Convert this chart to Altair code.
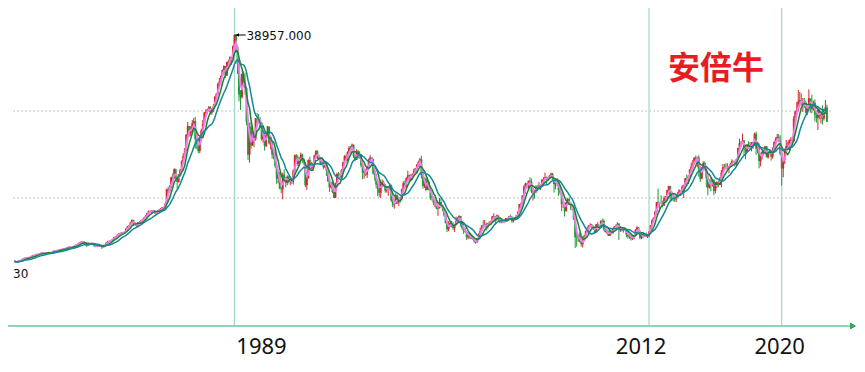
import altair as alt
import pandas as pd

# ---------------- data (monthly Nikkei 225, Oct 1977 - Sep 2022) ----------------
first_year, first_month = 1977, 10

closes = [
    4990, 4880, 4866,  # 1977 Oct-Dec
    5060, 5100, 5300, 5450, 5500, 5560, 5480, 5580, 5690, 5890, 5770, 6002,
    6080, 6050, 6160, 6310, 6200, 6180, 6230, 6290, 6340, 6210, 6380, 6569,
    6500, 6610, 6680, 6720, 6750, 6850, 6870, 6950, 7070, 7150, 7090, 7116,
    7250, 7330, 7470, 7600, 7790, 7900, 8000, 7700, 7600, 7300, 7600, 7682,
    7700, 7500, 7250, 7200, 7350, 7300, 7250, 7100, 7250, 7400, 7800, 8017,
    8020, 8100, 8300, 8600, 8700, 8900, 9100, 9200, 9300, 9200, 9400, 9894,
    10200, 10300, 10800, 11200, 10600, 10500, 10300, 10800, 10900, 11100, 11300, 11543,
    11800, 12200, 12500, 12500, 12400, 12600, 12300, 12400, 12500, 12700, 12900, 13113,
    13000, 13600, 15800, 15500, 16000, 17600, 17400, 18800, 17900, 16900, 17900, 18701,
    20000, 20800, 21600, 24000, 25300, 24200, 24500, 25700, 26000, 23300, 22600, 21564,
    23600, 24600, 25600, 27300, 27400, 27800, 28100, 27300, 27900, 28200, 29700, 30159,
    31600, 32000, 32800, 33700, 34300, 32900, 34900, 35000, 35600, 35550, 37300, 38916,
    37200, 34600, 29980, 29600, 33100, 31900, 31000, 25900, 20980, 25200, 22400, 23849,
    23300, 26400, 26300, 26100, 25800, 23300, 23900, 22300, 23900, 25200, 22700, 22984,
    21000, 21300, 19300, 17400, 18300, 15900, 15800, 18000, 17400, 16800, 17700, 16925,
    17000, 16900, 18600, 20900, 20600, 19600, 20400, 21000, 20100, 19700, 16400, 17417,
    20200, 19100, 19100, 19700, 20900, 21600, 20400, 20600, 19600, 19900, 19100, 19723,
    18600, 17000, 16100, 16800, 15400, 14500, 16700, 18100, 17900, 17600, 18700, 19868,
    20800, 20100, 21400, 22000, 21700, 22500, 20700, 20200, 21500, 20500, 21000, 19361,
    18300, 18600, 18000, 19200, 20100, 20600, 20300, 18200, 17900, 16500, 16600, 15259,
    16600, 16800, 16500, 15600, 15700, 15800, 16400, 14100, 13400, 13600, 14900, 13842,
    14500, 14400, 15800, 16700, 16100, 17500, 17900, 17400, 17600, 17900, 18600, 18934,
    19500, 19900, 20300, 17900, 16300, 17400, 15700, 16900, 15700, 14500, 14600, 13786,
    13800, 12900, 13000, 13900, 13300, 12900, 11900, 10700, 9800, 10400, 10700, 10543,
    9990, 10600, 11000, 11500, 11800, 10600, 10000, 9600, 9400, 8600, 9200, 8579,
    8340, 8360, 7970, 7830, 8420, 9080, 9560, 10340, 10220, 10560, 10100, 10677,
    10780, 11040, 11720, 11760, 11240, 11860, 11330, 11080, 10820, 10770, 11000, 11489,
    11390, 11740, 11670, 11010, 11280, 11580, 11900, 12410, 13570, 13610, 14870, 16111,
    16650, 16200, 17060, 16910, 15470, 15510, 15460, 16140, 16130, 16400, 16270, 17226,
    17380, 17600, 17290, 17400, 17880, 18140, 17250, 16570, 16790, 16740, 15680, 15308,
    13590, 13600, 12530, 13850, 14340, 13480, 13380, 13070, 11260, 8580, 8510, 8860,
    7990, 7570, 8110, 8830, 9520, 9960, 10360, 10490, 10130, 10030, 9350, 10546,
    10200, 10130, 11090, 11060, 9770, 9380, 9540, 8820, 9370, 9200, 9940, 10229,
    10240, 10620, 9760, 9850, 9690, 9820, 9830, 8950, 8700, 8990, 8430, 8455,
    8800, 9720, 10080, 9520, 8540, 9010, 8700, 8840, 8870, 8930, 9450, 10395,
    11140, 11560, 12400, 13860, 13770, 13680, 13670, 13390, 14460, 14330, 15660, 16291,
    14910, 14840, 14830, 14300, 14630, 15160, 15620, 15420, 16170, 16410, 17460, 17451,
    17670, 18800, 19210, 19520, 20560, 20240, 20590, 18890, 17390, 19080, 19750, 19034,
    17520, 16030, 16760, 16670, 17230, 15580, 16570, 16890, 16450, 17430, 18310, 19114,
    19040, 19120, 18910, 19200, 19650, 20030, 19930, 19650, 20360, 22010, 22720, 22765,
    23100, 22070, 21450, 22470, 22200, 22300, 22550, 22870, 24120, 21920, 22350, 20015,
    20770, 21390, 21210, 22260, 20600, 21280, 21520, 20700, 21760, 22930, 23290, 23657,
    23210, 21140, 18920, 20190, 21880, 22290, 21710, 23140, 23190, 22980, 26430, 27444,
    27660, 28970, 29180, 28810, 28860, 28790, 27280, 28090, 29450, 28890, 27820, 28792,
    27000, 26530, 27820, 26850, 27280, 26390, 27800, 28090, 25940,  # 2022 Jan-Sep
]

highs = [
    5080, 5010, 4960,
    5100, 5160, 5340, 5500, 5560, 5620, 5600, 5640, 5730, 5960, 5930, 6040,
    6130, 6140, 6200, 6350, 6370, 6260, 6290, 6330, 6400, 6380, 6420, 6600,
    6620, 6660, 6720, 6760, 6800, 6900, 6930, 7010, 7120, 7220, 7190, 7180,
    7290, 7380, 7510, 7640, 7830, 7960, 8020, 8030, 7780, 7620, 7650, 7720,
    7780, 7760, 7530, 7320, 7400, 7420, 7350, 7280, 7320, 7450, 7850, 8060,
    8100, 8160, 8360, 8650, 8780, 8970, 9180, 9260, 9380, 9380, 9460, 9920,
    10300, 10450, 10900, 11300, 11190, 10800, 10620, 10860, 11000, 11150, 11380, 11600,
    11900, 12300, 12600, 12650, 12650, 12700, 12700, 12500, 12650, 12800, 13000, 13150,
    13200, 13700, 15900, 16200, 16400, 17700, 18150, 18950, 18900, 17900, 18100, 18850,
    20150, 21200, 22000, 24100, 25900, 25300, 25300, 26200, 26500, 26650, 23500, 23400,
    23700, 24900, 26200, 27400, 27800, 27900, 28300, 28300, 27950, 28600, 29800, 30200,
    31800, 32500, 32900, 33800, 34400, 34300, 34950, 35250, 35750, 35650, 37400, 38957,
    38920, 37400, 34800, 30700, 33200, 33500, 33300, 31200, 26300, 25800, 25900, 24500,
    24100, 26500, 27270, 27100, 26600, 25900, 24300, 24000, 24200, 25300, 25200, 23200,
    23000, 22000, 21500, 19400, 18600, 18400, 16200, 18300, 18800, 17600, 17900, 17800,
    17300, 17300, 18800, 21000, 21100, 20900, 20600, 21300, 21148, 20500, 19900, 17900,
    20300, 20700, 19900, 19800, 21000, 21552, 21600, 20800, 20600, 20300, 20000, 19800,
    19800, 18700, 17100, 17000, 16900, 15500, 16800, 18300, 18400, 18200, 18800, 19900,
    20900, 21000, 21500, 22300, 22300, 22666, 22500, 21000, 21800, 21700, 21500, 21100,
    19400, 18800, 18800, 19300, 20400, 20910, 20600, 20400, 18600, 18100, 17000, 17300,
    16900, 17300, 17100, 16600, 15900, 16000, 16700, 16500, 14400, 14300, 15200, 15000,
    14600, 14700, 15900, 17000, 17100, 17600, 18600, 18000, 18100, 18200, 18900, 19000,
    19600, 20100, 20500, 20833, 18100, 17600, 17600, 17200, 17000, 15900, 15100, 14700,
    14200, 13900, 13300, 14500, 14500, 13400, 12900, 11900, 11000, 11000, 11000, 11000,
    10900, 10600, 11700, 11600, 11900, 11800, 10800, 10300, 10000, 9500, 9300, 9300,
    8800, 8700, 8500, 8200, 8500, 9200, 10000, 10400, 11160, 11200, 10800, 10700,
    11000, 11100, 11800, 12200, 11800, 12000, 11900, 11300, 11300, 11100, 11200, 11500,
    11500, 11800, 12000, 11800, 11300, 11600, 11900, 12500, 13600, 13800, 14900, 16400,
    16800, 16700, 17100, 17600, 17400, 15700, 15500, 16400, 16400, 16900, 16500, 17300,
    17600, 18300, 17700, 17700, 17900, 18300, 18261, 17300, 16900, 17500, 16800, 16000,
    15200, 14100, 13700, 13900, 14500, 14600, 13600, 13400, 12900, 11300, 9500, 9000,
    9300, 8000, 8700, 9000, 9600, 10200, 10400, 10700, 10600, 10300, 10000, 10600,
    10900, 10300, 11100, 11400, 11300, 10300, 9800, 9600, 9700, 9600, 10000, 10300,
    10500, 10850, 10750, 10000, 10000, 9900, 10100, 9900, 9000, 9100, 8900, 8800,
    8900, 9800, 10250, 10100, 9600, 9100, 9000, 9200, 9300, 9100, 9500, 10400,
    11300, 11500, 12600, 13900, 15900, 13700, 14900, 14100, 14800, 14800, 15700, 16320,
    16200, 15200, 15300, 14900, 14800, 15400, 15800, 15700, 16400, 16500, 17500, 18000,
    17900, 18800, 19800, 20200, 20600, 20868, 20700, 20900, 18900, 19100, 20000, 20000,
    18400, 17900, 17300, 17600, 17300, 16900, 16900, 17000, 17100, 17600, 18700, 19600,
    19600, 19700, 19700, 19300, 19800, 20300, 20100, 20100, 20400, 22000, 23400, 23000,
    24130, 23200, 22500, 22500, 23000, 22900, 22900, 22900, 24300, 24450, 22700, 22700,
    20900, 21600, 21800, 22300, 22300, 21500, 21800, 21600, 22100, 22950, 23600, 24100,
    24100, 23900, 21800, 20400, 21900, 23200, 22900, 23300, 23600, 23700, 26800, 27600,
    28900, 30714, 30400, 30200, 29500, 29500, 29100, 28300, 30795, 29400, 30000, 29100,
    29300, 27300, 28300, 27800, 27400, 28400, 27900, 29200, 28500,
]

lows = [
    4900, 4780, 4750,
    4840, 5000, 5080, 5270, 5400, 5440, 5420, 5450, 5540, 5660, 5720, 5740,
    5980, 5990, 6020, 6140, 6150, 6110, 6150, 6200, 6260, 6150, 6190, 6350,
    6440, 6460, 6560, 6620, 6660, 6720, 6790, 6840, 6920, 7020, 6990, 7020,
    7080, 7200, 7300, 7440, 7560, 7740, 7820, 7620, 7350, 7150, 7280, 7540,
    7560, 7440, 7170, 7100, 7180, 7240, 7150, 6850, 7060, 7200, 7370, 7760,
    7900, 7960, 8050, 8280, 8520, 8640, 8840, 9050, 9150, 9050, 9150, 9350,
    9850, 10100, 10250, 10750, 10300, 10350, 10050, 10280, 10650, 10800, 10950, 11200,
    11500, 11700, 12050, 12300, 12200, 12350, 12150, 11950, 12150, 12400, 12600, 12800,
    12900, 12950, 13600, 14900, 15300, 15950, 16800, 17300, 17300, 15800, 16800, 17800,
    18700, 19800, 20600, 21500, 23600, 23700, 23800, 24300, 25100, 21900, 21800, 21200,
    21200, 23300, 24300, 25500, 26800, 27100, 27500, 27000, 27000, 27400, 28100, 29500,
    29900, 31200, 31500, 32700, 33200, 32500, 32800, 34300, 34600, 34500, 35300, 37100,
    36300, 33100, 29000, 27700, 29400, 31200, 30000, 25400, 20200, 19800, 21900, 22300,
    22100, 23100, 25700, 25700, 25200, 23100, 22800, 21600, 22100, 23700, 22500, 21800,
    20400, 20300, 19000, 16600, 16700, 15800, 15200, 14309, 17100, 16100, 16400, 16700,
    16400, 16600, 16500, 18500, 20200, 19300, 19300, 20000, 19700, 19500, 16100, 15700,
    17400, 18800, 18800, 18800, 19600, 20800, 20300, 20200, 19500, 19400, 18800, 19000,
    17800, 16900, 15400, 15900, 15200, 14485, 14700, 16600, 17300, 17400, 17600, 18600,
    19700, 19800, 20100, 21200, 21300, 21600, 20500, 20000, 20300, 20400, 20400, 19100,
    17300, 17400, 17800, 17500, 19200, 19900, 19700, 18000, 17100, 15900, 14800, 14600,
    14500, 16400, 16200, 15300, 15300, 14800, 15600, 13900, 13100, 12880, 13600, 13600,
    13300, 13800, 14100, 15600, 15900, 16200, 17300, 16900, 17000, 17200, 17700, 18200,
    18200, 19200, 19300, 17400, 15900, 16000, 15500, 15700, 15600, 14200, 14100, 13400,
    13100, 12800, 11800, 12900, 13200, 12500, 11700, 10700, 9380, 9500, 10100, 10100,
    9700, 9400, 10600, 10900, 11200, 10200, 9700, 9100, 9300, 8200, 8300, 8400,
    8300, 8200, 7800, 7603, 7800, 8400, 9100, 9500, 9900, 10200, 9600, 9900,
    10400, 10400, 10900, 11600, 10500, 11100, 11000, 10700, 10700, 10700, 10800, 10900,
    11200, 11300, 11600, 10800, 10800, 11200, 11500, 11700, 12400, 13000, 13600, 14800,
    15100, 15900, 15800, 16800, 15200, 14100, 14400, 15200, 15500, 16000, 15700, 16200,
    16800, 17300, 16400, 17100, 17300, 17700, 17200, 15300, 15800, 16300, 14800, 15000,
    12500, 13000, 11700, 12400, 13700, 13400, 12700, 12600, 11200, 6994, 7200, 7900,
    7800, 7200, 7054, 8000, 8600, 9300, 9000, 10100, 9900, 9700, 9100, 9300,
    10100, 9900, 10100, 10800, 9600, 9300, 9100, 8800, 8900, 9100, 9200, 9900,
    10200, 10200, 8200, 9400, 9500, 9300, 9700, 8600, 8400, 8400, 8100, 8200,
    8300, 8800, 9700, 9400, 8300, 8300, 8400, 8700, 8700, 8500, 8600, 9400,
    10400, 10800, 11600, 12000, 13200, 12400, 13700, 13100, 13300, 13800, 14000, 15300,
    14000, 14000, 14000, 13900, 13900, 14600, 15100, 14800, 15400, 14500, 16400, 16600,
    16600, 17600, 18500, 19000, 19500, 19800, 19100, 17700, 16900, 17300, 19000, 18600,
    16100, 14900, 15900, 15500, 16200, 14900, 15200, 16000, 16100, 16400, 16100, 18200,
    18700, 18800, 18900, 18200, 19300, 19600, 19800, 19200, 19200, 20300, 21900, 22100,
    22800, 20950, 20300, 21300, 21900, 21800, 21500, 21900, 22300, 20970, 21200, 18950,
    19240, 20300, 20900, 21500, 20600, 20400, 21100, 20100, 20400, 21300, 22900, 23100,
    22900, 20900, 16358, 17600, 19600, 21500, 21700, 21700, 23000, 22950, 23100, 26000,
    27000, 27500, 28300, 28400, 27400, 28000, 27200, 26954, 28800, 27300, 27200, 27600,
    26000, 25800, 24700, 26300, 25700, 25500, 26100, 27600, 25900,
]

event_months = ["1989-12", "2012-11", "2020-03"]   # vertical marker lines
event_labels = ["1989", "2012", "2020"]
grid_values = [27550, 14490]
ma_periods = [3, 6, 12]
title_text = "安倍牛"
corner_label = "30"

# ---------------- style ----------------
W, H = 849, 318
X_DOMAIN = [1977.44, 2024.37]
Y_DOMAIN = [-4722, 43010]
UP, DOWN = "#d8242c", "#1e9c36"
MA_COLORS = ["#f07ef0", "#13862c", "#14889a"]
MA_WIDTHS = [2.0, 1.5, 1.5]
LINE_GREEN = "#9ed9bf"
label_dx = [27, -8, -2]

# ---------------- tables ----------------
def month_to_t(y, m):
    return y + (m - 0.5) / 12

ts = []
yy, mm = first_year, first_month
for _ in closes:
    ts.append(month_to_t(yy, mm))
    mm += 1
    if mm > 12:
        mm = 1
        yy += 1

df = pd.DataFrame({"t": ts, "close": closes, "high": highs, "low": lows})

ev = pd.DataFrame({
    "t": [month_to_t(int(s[:4]), int(s[5:])) for s in event_months],
    "label": event_labels,
})
grid_df = pd.DataFrame({"v": grid_values, "x0": ts[0] - 0.05, "x1": 2023.05})

peak_i = highs.index(max(highs))
peak_df = pd.DataFrame({"t": [ts[peak_i]], "v": [highs[peak_i]],
                        "txt": [f"{highs[peak_i]:.3f}"]})

xs = alt.Scale(domain=X_DOMAIN, nice=False, zero=False)
ys = alt.Scale(domain=Y_DOMAIN, nice=False, zero=False)
X = alt.X("t:Q", scale=xs, axis=None)

base = (alt.Chart(df)
        .transform_window(prev="lag(close)", sort=[alt.SortField("t")])
        .transform_calculate(
            open="datum.prev == null ? datum.close : datum.prev",
        )
        .transform_calculate(
            dir="datum.close >= datum.open ? 'up' : 'down'",
            hi="max(datum.high, datum.open, datum.close)",
            lo="min(datum.low, datum.open, datum.close)",
        ))

cscale = alt.Scale(domain=["up", "down"], range=[UP, DOWN])

vlines = alt.Chart(ev).mark_rule(color=LINE_GREEN, strokeWidth=1.2).encode(x=X)

grid = alt.Chart(grid_df).mark_rule(color="#b0b0b0", strokeWidth=1, strokeDash=[1.5, 2.5]).encode(
    x=alt.X("x0:Q", scale=xs, axis=None), x2="x1:Q",
    y=alt.Y("v:Q", scale=ys, axis=None))

axis_line = alt.Chart(ev).mark_rule(color="#8fd3b0", strokeWidth=1.5).encode(
    x=alt.value(0), x2=alt.value(843), y=alt.value(H))
arrow = alt.Chart(ev).mark_point(shape="triangle-right", filled=True, size=40,
                                 color="#2fae55", opacity=1).encode(
    x=alt.value(845), y=alt.value(H))

wicks = base.mark_rule(strokeWidth=1.0).encode(
    x=X, y=alt.Y("lo:Q", scale=ys, axis=None), y2="hi:Q",
    color=alt.Color("dir:N", scale=cscale, legend=None))
bodies = base.mark_rule(strokeWidth=1.9).encode(
    x=X, y=alt.Y("open:Q", scale=ys, axis=None), y2="close:Q",
    color=alt.Color("dir:N", scale=cscale, legend=None))

ma_layers = []
for p, c, w in zip(ma_periods, MA_COLORS, MA_WIDTHS):
    ma_layers.append(
        alt.Chart(df)
        .transform_window(ma="mean(close)", frame=[-(p - 1), 0], sort=[alt.SortField("t")])
        .mark_line(color=c, strokeWidth=w)
        .encode(x=X, y=alt.Y("ma:Q", scale=ys, axis=None))
    )

peak_line = (alt.Chart(peak_df).transform_calculate(t2="datum.t + 0.62")
             .mark_rule(color="#000000", strokeWidth=1)
             .encode(x=X, x2="t2:Q", y=alt.Y("v:Q", scale=ys, axis=None)))
peak_head = (alt.Chart(peak_df).transform_calculate(th="datum.t + 0.16")
             .mark_point(shape="triangle-left", filled=True, size=14, color="#000000", opacity=1)
             .encode(x=alt.X("th:Q", scale=xs, axis=None), y=alt.Y("v:Q", scale=ys, axis=None)))
peak_text = alt.Chart(peak_df).mark_text(align="left", baseline="middle", dx=12, dy=1,
                                         font="DejaVu Sans", fontSize=12, color="#111111").encode(
    x=X, y=alt.Y("v:Q", scale=ys, axis=None), text="txt:N")

year_texts = []
for i, lab in enumerate(event_labels):
    year_texts.append(
        alt.Chart(ev).transform_filter(alt.datum.label == lab)
        .mark_text(align="center", baseline="alphabetic", dx=label_dx[i],
                   font="Noto Sans", fontSize=22, color="#111111")
        .encode(x=X, y=alt.value(H + 28), text="label:N"))

title = alt.Chart(ev).transform_filter(alt.datum.label == "1989").mark_text(
    text=title_text, font="Noto Sans CJK SC", fontWeight="bold", fontSize=32,
    color="#ea1b23", align="center", baseline="middle").encode(
    x=alt.value(708), y=alt.value(61))

corner = alt.Chart(ev).transform_filter(alt.datum.label == "1989").mark_text(
    text=corner_label, font="DejaVu Sans", fontSize=12, color="#111111",
    align="left", baseline="alphabetic").encode(x=alt.value(5), y=alt.value(270))

chart = alt.layer(
    grid, vlines, axis_line, arrow, wicks, bodies, *ma_layers,
    peak_line, peak_head, peak_text, *year_texts, title, corner,
).properties(
    width=W, height=H,
    background="white",
    autosize=alt.AutoSizeParams(type="none"),
    padding={"left": 0, "top": 0, "right": 0, "bottom": 40},
).configure_view(strokeWidth=0, stroke="transparent")

chart.save("out.html", embed_options={"renderer": "svg", "actions": False})
